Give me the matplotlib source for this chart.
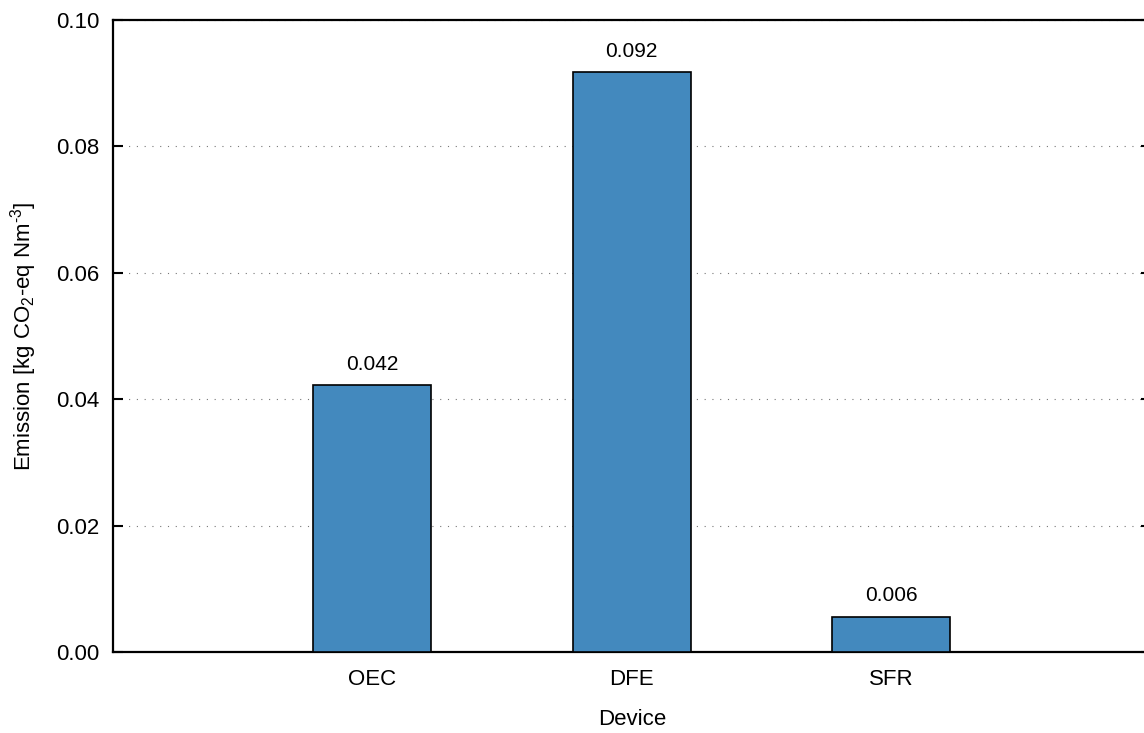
"""Emission per device bar chart"""

import matplotlib
matplotlib.use('Agg')
import matplotlib.pyplot as plt

devices = ['OEC', 'DFE', 'SFR']
emissions = [0.0422, 0.0917, 0.0056]

plt.rcParams['font.family'] = ['Liberation Sans', 'DejaVu Sans']
plt.rcParams['mathtext.fontset'] = 'custom'
plt.rcParams['mathtext.rm'] = 'Liberation Sans'
plt.rcParams['mathtext.it'] = 'Liberation Sans'
plt.rcParams['mathtext.default'] = 'regular'


def main():
    """Main"""
    fig = plt.figure(figsize=(11.44, 7.33), dpi=100)
    # right edge of the axes sits just past the figure border
    ax = fig.add_axes([113 / 1144, 81 / 733, 1037.5 / 1144, 632 / 733])

    xpos = list(range(len(devices)))
    ax.bar(xpos, emissions, width=0.455, color='#4389be',
           edgecolor='black', linewidth=1.2, zorder=3)

    for x, val in zip(xpos, emissions):
        ax.annotate('%.3f' % val, (x, val), xytext=(0, 8),
                    textcoords='offset points', ha='center', va='bottom',
                    fontsize=15)

    ax.set_xlim(-1, 3)
    ax.set_ylim(0, 0.10)
    ax.set_xticks(xpos)
    ax.set_xticklabels(devices)
    ax.set_yticks([0.0, 0.02, 0.04, 0.06, 0.08, 0.10])
    ax.set_yticklabels(['%.2f' % v for v in ax.get_yticks()])

    ax.tick_params(axis='y', direction='in', length=7, width=1.5,
                   labelsize=16, pad=10, right=True)
    ax.tick_params(axis='x', length=0, labelsize=16, pad=12)

    ax.yaxis.grid(True, linestyle=(0, (1, 6)), linewidth=0.8, color='#777777')
    ax.set_axisbelow(True)

    for side in ['left', 'bottom', 'top']:
        ax.spines[side].set_linewidth(1.6)
    ax.spines['right'].set_visible(False)

    ax.set_xlabel('Device', fontsize=16, labelpad=14)
    ax.set_ylabel(r'Emission [kg CO$_2$-eq Nm$^{\text{-}3}$]', fontsize=16,
                  labelpad=12)

    fig.savefig('out.png', dpi=100)


if __name__ == '__main__':
    main()
